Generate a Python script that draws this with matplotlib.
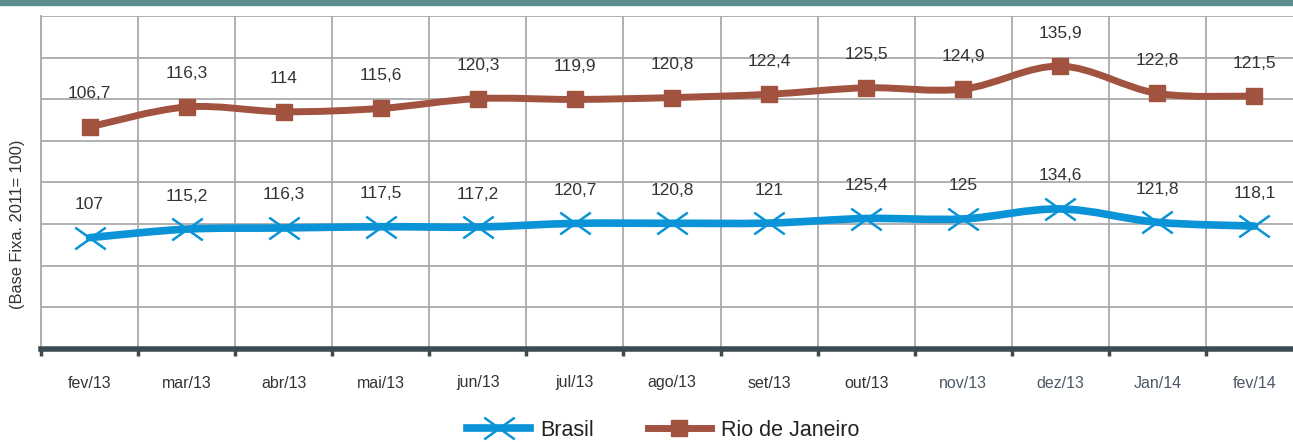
import matplotlib
matplotlib.use("Agg")
import matplotlib.pyplot as plt
from matplotlib.path import Path
from matplotlib.patches import PathPatch, Rectangle
from matplotlib.lines import Line2D
import numpy as np

categories = ["fev/13", "mar/13", "abr/13", "mai/13", "jun/13", "jul/13", "ago/13",
              "set/13", "out/13", "nov/13", "dez/13", "Jan/14", "fev/14"]
rio = [106.7, 116.3, 114, 115.6, 120.3, 119.9, 120.8, 122.4, 125.5, 124.9, 135.9, 122.8, 121.5]
brasil = [107, 115.2, 116.3, 117.5, 117.2, 120.7, 120.8, 121, 125.4, 125, 134.6, 121.8, 118.1]
ylabel = "(Base Fixa. 2011= 100)"

RIO_C = "#a2533f"
BR_C = "#0a93d6"
FONT = ["Liberation Sans Narrow", "Liberation Sans", "DejaVu Sans"]
FONT_REG = ["Liberation Sans", "DejaVu Sans"]

W, H = 1293, 442
fig = plt.figure(figsize=(W / 100, H / 100), dpi=100)

# top teal band
fig.patches.append(Rectangle((0, 1 - 5 / H), 1, 5 / H, transform=fig.transFigure,
                             color="#5f8f8c", zorder=0))

left, right, top, bottom = 41, 1303, 16, 349
ax = fig.add_axes([left / W, 1 - bottom / H, (right - left) / W, (bottom - top) / H])
ax2 = ax.twinx()

n = len(categories)
x = np.arange(n)
ax.set_xlim(-0.5, n - 0.5)
ax.set_ylim(0, 160)
ax2.set_ylim(0, 320)

# grid
ax.set_yticks(np.arange(0, 161, 20))
ax.set_xticks(np.arange(n + 1) - 0.5)
ax.grid(True, color="#aaaaaa", linewidth=1.3)
ax.set_axisbelow(True)
ax.tick_params(axis="y", left=False, labelleft=False)
ax.tick_params(axis="x", direction="out", length=5, width=2.5, color="#3c4a53",
               labelbottom=False)
ax2.tick_params(axis="y", right=False, labelright=False)
for a in (ax, ax2):
    for s in ("top", "right", "left"):
        a.spines[s].set_visible(False)
ax.spines["left"].set_visible(True)
ax.spines["left"].set_color("#aaaaaa")
ax.spines["left"].set_linewidth(1.3)
ax.spines["bottom"].set_color("#3c4a53")
ax.spines["bottom"].set_linewidth(4)
ax2.spines["bottom"].set_visible(False)

# category labels
label_colors = ["#333333"] * 9 + ["#4d5966"] * 4
for i, (c, col) in enumerate(zip(categories, label_colors)):
    ax.annotate(c, (i, 0), xytext=(0, -34), textcoords="offset pixels",
                ha="center", va="center", fontsize=11.5, color=col, family=FONT)


def smooth_path(xs, ys):
    pts = np.column_stack([xs, ys])
    verts = [pts[0]]
    codes = [Path.MOVETO]
    m = len(pts)
    for i in range(m - 1):
        p0 = pts[i - 1] if i > 0 else pts[i]
        p1 = pts[i]
        p2 = pts[i + 1]
        p3 = pts[i + 2] if i + 2 < m else pts[i + 1]
        c1 = p1 + (p2 - p0) / 6.0
        c2 = p2 - (p3 - p1) / 6.0
        verts += [c1, c2, p2]
        codes += [Path.CURVE4] * 3
    return Path(verts, codes)


# wide "x" marker
wide_x = Path([(-1.4, -1), (1.4, 1), (-1.4, 1), (1.4, -1)],
              [Path.MOVETO, Path.LINETO, Path.MOVETO, Path.LINETO])

ax.add_patch(PathPatch(smooth_path(x, rio), facecolor="none", edgecolor=RIO_C,
                       linewidth=5, capstyle="round", joinstyle="round", zorder=3))
ax.plot(x, rio, linestyle="none", marker="s", markersize=11.5, color=RIO_C, zorder=4)

ax2.add_patch(PathPatch(smooth_path(x, brasil), facecolor="none", edgecolor=BR_C,
                        linewidth=5.5, capstyle="round", joinstyle="round", zorder=3))
ax2.plot(x, brasil, linestyle="none", marker=wide_x, markersize=22, markeredgewidth=1.8,
         markerfacecolor="none", color=BR_C, zorder=4)


def fmt(v):
    return f"{v:g}".replace(".", ",")


for i, v in enumerate(rio):
    ax.annotate(fmt(v), (i, v), xytext=(0, 33), textcoords="offset pixels",
                ha="center", va="center", fontsize=12.5, color="#333333", family=FONT)
for i, v in enumerate(brasil):
    ax2.annotate(fmt(v), (i, v), xytext=(0, 33), textcoords="offset pixels",
                 ha="center", va="center", fontsize=12.5, color="#333333", family=FONT)

fig.text(18 / W, 1 - 224 / H, ylabel, rotation=90, ha="center", va="center",
         fontsize=11.8, color="#333333", family=FONT)

handles = [
    Line2D([], [], color=BR_C, linewidth=5.5, marker=wide_x, markersize=22,
           markeredgewidth=1.8, markerfacecolor="none"),
    Line2D([], [], color=RIO_C, linewidth=5, marker="s", markersize=11.5),
]
leg = fig.legend(handles, ["Brasil", "Rio de Janeiro"], loc="center",
                 bbox_to_anchor=(663 / W, 1 - 430 / H), ncol=2, frameon=False,
                 handlelength=2.95, columnspacing=2.5, handletextpad=0.45,
                 borderpad=0, prop={"family": FONT_REG, "size": 15.5})
for t in leg.get_texts():
    t.set_color("#222222")

fig.savefig("out.png", dpi=100)
